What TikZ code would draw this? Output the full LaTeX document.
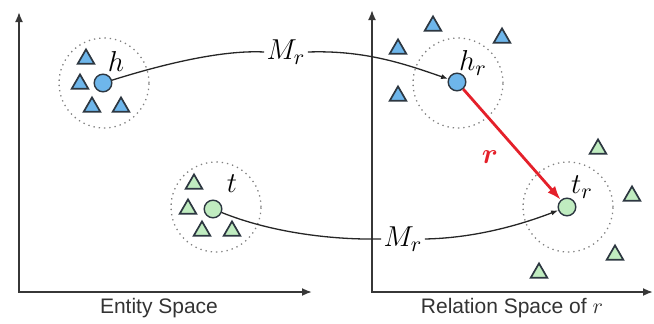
\documentclass[tikz,border=0pt]{standalone}
\usepackage{amsmath}
\usepackage{fontspec}
\setmainfont{Liberation Sans}
\usetikzlibrary{arrows.meta,shapes.geometric}
\definecolor{bluef}{RGB}{110,182,235}
\definecolor{greenf}{RGB}{192,236,192}
\definecolor{outl}{RGB}{45,55,65}
\definecolor{redr}{RGB}{228,32,42}
\definecolor{axisc}{RGB}{55,55,55}
\begin{document}
\begin{tikzpicture}[x=0.5pt,y=-0.5pt,
  ent/.style={circle,draw=outl,line width=0.7pt,minimum size=8.8pt,inner sep=0pt},
  tri/.style={regular polygon,regular polygon sides=3,draw=outl,line width=0.85pt,minimum size=9.6pt,inner sep=0pt},
  region/.style={circle,draw=gray,dotted,line width=0.65pt,minimum size=45pt,inner sep=0pt},
  axis/.style={draw=axisc,line width=0.9pt,{Latex[length=5pt,width=4pt]}-{Latex[length=5pt,width=4pt]}},
  map/.style={draw=black!85,line width=0.65pt},
  maparrow/.style={map,-{Latex[length=3.5pt,width=2.6pt]}},
  mlab/.style={inner sep=1pt,font=\fontsize{15}{17}\selectfont},
  axlab/.style={font=\fontsize{10.5}{12}\selectfont,text=black!80}]
\useasboundingbox (0,0) rectangle (654,323);

% axes
\coordinate (ly) at (19,12);
\coordinate (lo) at (19,292);
\coordinate (lx) at (312,292);
\coordinate (ry) at (372,10);
\coordinate (ro) at (372,292);
\coordinate (rx) at (653,292);
\draw[axis] (ly) -- (lo) -- (lx);
\draw[axis] (ry) -- (ro) -- (rx);
\node[axlab] (ent) at (159,308) {Entity Space};
\node[axlab] (rel) at (512,308) {Relation Space of $r$};

% regions
\node[region] (hreg) at (104,83) {};
\node[region] (treg) at (216,207) {};
\node[region] (hrreg) at (458,83) {};
\node[region] (trreg) at (568,207) {};

% triangles, entity space
\node[tri,fill=bluef] (b1) at (86,59) {};
\node[tri,fill=bluef] (b2) at (80,84) {};
\node[tri,fill=bluef] (b3) at (92,107) {};
\node[tri,fill=bluef] (b4) at (121,107) {};
\node[tri,fill=greenf] (g1) at (194,184) {};
\node[tri,fill=greenf] (g2) at (188,209) {};
\node[tri,fill=greenf] (g3) at (202,231) {};
\node[tri,fill=greenf] (g4) at (232,231) {};

% triangles, relation space
\node[tri,fill=bluef] (b5) at (433,26) {};
\node[tri,fill=bluef] (b6) at (502,38) {};
\node[tri,fill=bluef] (b7) at (398,49) {};
\node[tri,fill=bluef] (b8) at (398,96) {};
\node[tri,fill=greenf] (g5) at (598,149) {};
\node[tri,fill=greenf] (g6) at (632,196) {};
\node[tri,fill=greenf] (g7) at (615,255) {};
\node[tri,fill=greenf] (g8) at (539,273) {};

% entities
\node[ent,fill=bluef] (h) at (103,83) {};
\node[ent,fill=greenf] (t) at (213,209) {};
\node[ent,fill=bluef] (hr) at (457,82) {};
\node[ent,fill=greenf] (tr) at (567,207) {};

% entity labels
\node[mlab] (hl) at (116,61) {$h$};
\node[mlab] (tl) at (232,184) {$t$};
\node[mlab] (hrl) at (473,63) {$h_r$};
\node[mlab] (trl) at (582,187) {$t_r$};

% mapping curves
\node[mlab] (M1) at (286,52) {$M_r$};
\node[mlab] (M2) at (403,239) {$M_r$};
\draw[map] (h) .. controls (170,62) and (225,50) .. (M1.west);
\draw[maparrow] (M1.east) .. controls (365,50) and (405,64) .. (hr);
\draw[map] (t) .. controls (270,232) and (330,240) .. (M2.west);
\draw[maparrow] (M2.east) .. controls (475,238) and (520,225) .. (tr);

% relation translation
\draw[draw=redr,line width=1.4pt,-{Latex[length=7pt,width=5pt]}] (hr) -- (tr);
\node[mlab,text=redr] (rl) at (490,157) {$\boldsymbol{r}$};
\end{tikzpicture}
\end{document}
